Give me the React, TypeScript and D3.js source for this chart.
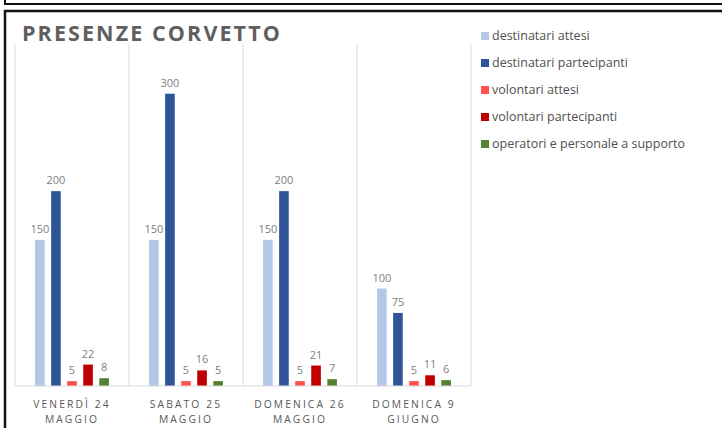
import React from 'react';
import * as d3 from 'd3';

const categories = [
  ['VENERDÌ 24', 'MAGGIO'],
  ['SABATO 25', 'MAGGIO'],
  ['DOMENICA 26', 'MAGGIO'],
  ['DOMENICA 9', 'GIUGNO'],
];
const seriesNames = [
  'destinatari attesi',
  'destinatari partecipanti',
  'volontari attesi',
  'volontari partecipanti',
  'operatori e personale a supporto',
];
const seriesColors = ['#b4c7e7', '#2f5597', '#ff5050', '#c00000', '#548235'];

const destinatariAttesi = [150, 150, 150, 100];
const destinatariPartecipanti = [200, 300, 200, 75];
const volontariAttesi = [5, 5, 5, 5];
const volontariPartecipanti = [22, 16, 21, 11];
const operatori = [8, 5, 7, 6];

const seriesValues = [
  destinatariAttesi,
  destinatariPartecipanti,
  volontariAttesi,
  volontariPartecipanti,
  operatori,
];

const W = 722;
const H = 428;
const font = '"Open Sans", "Noto Sans", sans-serif';

export default function App() {
  const catKeys = categories.map((_, i) => String(i));
  const x0 = d3.scaleBand<string>().domain(catKeys).range([15, 471]).padding(0);
  const x1 = d3
    .scaleBand<string>()
    .domain(seriesNames)
    .range([0, x0.bandwidth()])
    .paddingInner(0.4)
    .paddingOuter(1.25);
  const y = d3.scaleLinear().domain([0, 350]).range([386, 45]);
  const legendY = d3.scalePoint<string>().domain(seriesNames).range([36, 144]);

  const bounds = catKeys.map((k) => x0(k) as number).concat([471]);

  return (
    <div style={{ position: 'fixed', left: 0, top: 0, width: W, height: H, background: '#fff' }}>
      <svg width={W} height={H} style={{ display: 'block' }}>
        <rect width={W} height={H} fill="#fff" />
        {/* frames */}
        <path d="M5,0 V4 H722" fill="none" stroke="#111" strokeWidth={2} />
        <path d="M5,440 V11 H722" fill="none" stroke="#111" strokeWidth={2.5} />

        <text
          x={22}
          y={41}
          fontFamily={font}
          fontWeight={700}
          fontSize={21.5}
          fill="#5f5f5f"
          letterSpacing={2.1}
        >
          PRESENZE CORVETTO
        </text>

        {/* category separators */}
        {bounds.map((bx, i) => (
          <line key={i} x1={bx} x2={bx} y1={44} y2={386} stroke="#d9d9d9" strokeWidth={1} />
        ))}

        {/* bars */}
        {catKeys.map((k, ci) => (
          <g key={k} transform={`translate(${x0(k)},0)`}>
            {seriesNames.map((s, si) => {
              const v = seriesValues[si][ci];
              const bx = x1(s) as number;
              return (
                <g key={s}>
                  <rect
                    x={bx}
                    y={y(v)}
                    width={x1.bandwidth()}
                    height={y(0) - y(v)}
                    fill={seriesColors[si]}
                  />
                  <text
                    x={bx + x1.bandwidth() / 2}
                    y={y(v) - 7}
                    textAnchor="middle"
                    fontFamily={font}
                    fontSize={11}
                    fill="#808080"
                  >
                    {v}
                  </text>
                </g>
              );
            })}
          </g>
        ))}

        {/* baseline */}
        <line x1={15} x2={471} y1={386} y2={386} stroke="#d9d9d9" strokeWidth={1} />

        {/* category labels */}
        {catKeys.map((k, ci) => (
          <text
            key={k}
            x={(x0(k) as number) + x0.bandwidth() / 2}
            textAnchor="middle"
            fontFamily={font}
            fontSize={10.3}
            fill="#595959"
            letterSpacing={2.1}
          >
            <tspan x={(x0(k) as number) + x0.bandwidth() / 2} y={408}>
              {categories[ci][0]}
            </tspan>
            <tspan x={(x0(k) as number) + x0.bandwidth() / 2} y={423}>
              {categories[ci][1]}
            </tspan>
          </text>
        ))}

        {/* legend */}
        {seriesNames.map((s, si) => (
          <g key={s} transform={`translate(481,${legendY(s)})`}>
            <rect x={0} y={-4} width={8} height={8} fill={seriesColors[si]} />
            <text x={11} y={4} fontFamily={font} fontSize={12.5} fill="#505050">
              {s}
            </text>
          </g>
        ))}
      </svg>
    </div>
  );
}
